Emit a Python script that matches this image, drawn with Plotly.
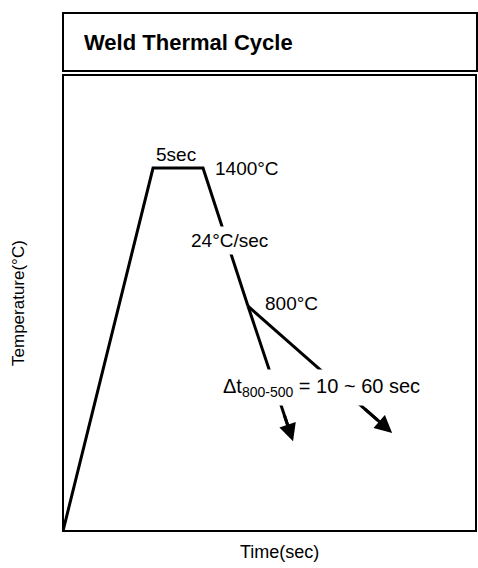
import plotly.graph_objects as go

# Schematic data (arbitrary units: time 0-100, temperature 0-100)
cycle_time = [0, 21.8, 33.9, 44.8]
cycle_temp = [0, 79.6, 79.6, 49.3]
fast_time = [44.8, 55.7]
fast_temp = [49.3, 19.7]
slow_time = [44.8, 79.7]
slow_temp = [49.3, 21.5]

title_text = "Weld Thermal Cycle"
x_title = "Time(sec)"
y_title = "Temperature(°C)"
label_hold = "5sec"
label_peak = "1400°C"
label_rate = "24°C/sec"
label_branch = "800°C"
label_dt = "Δt<sub>800-500</sub> = 10 ~ 60 sec"

FONT = "Liberation Sans, Arial, sans-serif"
LW = 3

fig = go.Figure()
line_style = dict(color="black", width=LW)
fig.add_trace(go.Scatter(x=cycle_time, y=cycle_temp, mode="lines", line=line_style,
                         hoverinfo="skip", showlegend=False))
# branches (stop slightly before the tip, arrowhead completes them)
for tx, ty in [(fast_time, fast_temp), (slow_time, slow_temp)]:
    fig.add_trace(go.Scatter(x=[tx[0], tx[0] + (tx[1]-tx[0])*0.9],
                             y=[ty[0], ty[0] + (ty[1]-ty[0])*0.9],
                             mode="lines", line=line_style,
                             hoverinfo="skip", showlegend=False))
    fig.add_annotation(x=tx[1], y=ty[1], ax=tx[0] + (tx[1]-tx[0])*0.8,
                       ay=ty[0] + (ty[1]-ty[0])*0.8, axref="x", ayref="y",
                       xref="x", yref="y", text="", showarrow=True,
                       arrowhead=2, arrowwidth=LW, arrowsize=1.15, arrowcolor="black")

lab_font = dict(family=FONT, size=19, color="black")
fig.add_annotation(x=27.4, y=82.5, text=label_hold, showarrow=False, font=lab_font,
                   xanchor="center", yanchor="middle")
fig.add_annotation(x=36.3, y=79.6, text=label_peak, showarrow=False, font=lab_font,
                   xanchor="left", yanchor="middle")
fig.add_annotation(x=40.4, y=63.8, text=label_rate, showarrow=False, font=lab_font,
                   xanchor="center", yanchor="middle", bgcolor="white", borderpad=3)
fig.add_annotation(x=48.4, y=50.0, text=label_branch, showarrow=False, font=lab_font,
                   xanchor="left", yanchor="middle")
fig.add_annotation(x=37.3, y=31.4, text=label_dt, showarrow=False,
                   font=dict(family=FONT, size=20, color="black"),
                   xanchor="left", yanchor="middle", bgcolor="white", borderpad=5)

# axis titles
fig.add_annotation(xref="paper", yref="paper", x=-0.109, y=0.5, text=y_title,
                   showarrow=False, textangle=-90, font=dict(family=FONT, size=17, color="black"),
                   xanchor="center", yanchor="middle")
fig.add_annotation(xref="paper", yref="paper", x=0.525, y=-0.045, text=x_title,
                   showarrow=False, font=dict(family=FONT, size=18, color="black"),
                   xanchor="center", yanchor="middle")

# title box
fig.add_shape(type="rect", xref="paper", yref="paper", x0=0, x1=1.0024, y0=1.0088, y1=1.136,
              line=dict(color="black", width=2), fillcolor="white", layer="above")
fig.add_annotation(xref="paper", yref="paper", x=0.046, y=1.072, text="<b>%s</b>" % title_text,
                   showarrow=False, font=dict(family=FONT, size=22, color="black"),
                   xanchor="left", yanchor="middle")
# plot box
fig.add_shape(type="rect", xref="paper", yref="paper", x0=0, x1=1, y0=0, y1=1,
              line=dict(color="black", width=2), layer="above")

fig.update_xaxes(range=[0, 100], visible=False, fixedrange=True)
fig.update_yaxes(range=[0, 100], visible=False, fixedrange=True)
fig.update_layout(width=478, height=568, margin=dict(l=63, r=2, t=75, b=37),
                  plot_bgcolor="white", paper_bgcolor="white", showlegend=False)

fig.write_html("out.html", config={"displayModeBar": False},
               post_script="document.body.style.margin='0';document.body.style.overflow='hidden';")
